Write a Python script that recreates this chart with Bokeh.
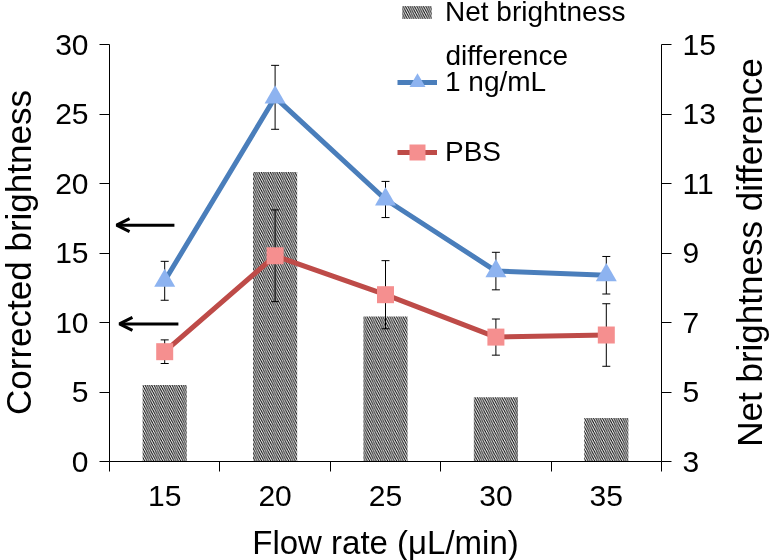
import math
from bokeh.plotting import figure
from bokeh.layouts import row
from bokeh.models import (Range1d, LinearAxis, FixedTicker, ColumnDataSource, Whisker, TeeHead,
                          Arrow, OpenHead, Legend, LegendItem, Label)
from bokeh.embed import file_html
from bokeh.resources import INLINE

# ---- data ----
flow_rate = [15, 20, 25, 30, 35]
ng1_mean = [13.0, 26.2, 18.85, 13.7, 13.4]
ng1_err = [1.4, 2.3, 1.3, 1.35, 1.35]
pbs_mean = [7.9, 14.8, 12.0, 8.95, 9.1]
pbs_err = [0.85, 3.3, 2.45, 1.3, 2.25]
net_diff = [5.2, 11.33, 7.17, 4.85, 4.25]
left_ticks = [0, 5, 10, 15, 20, 25, 30]
right_ticks = [3, 5, 7, 9, 11, 13, 15]
cat_bounds = [12.5, 17.5, 22.5, 27.5, 32.5, 37.5]
arrow_levels = [17.0, 9.9]

FONT = "Liberation Sans"
BLUE = "#4A7EBB"
RED = "#BE4B48"
TRI = "#8DB3F0"
SQR = "#F58F8F"

W, H = 771, 560
WL, WR = 45, 43          # side strips holding the two vertical axis titles
AX_H, TOP_PAD = 417, 44  # axes span, free frame above it for the legend
stretch = (AX_H + TOP_PAD) / AX_H
l0, l1 = left_ticks[0], left_ticks[-1]
r0, r1 = right_ticks[0], right_ticks[-1]


def strip(width, text, x_base):
    s = figure(width=width, height=H, min_border=0, x_range=Range1d(0, 1), y_range=Range1d(0, 1),
               x_axis_type=None, y_axis_type=None, output_backend="svg", toolbar_location=None,
               tools="")
    s.outline_line_color = None
    s.xgrid.visible = False
    s.ygrid.visible = False
    s.add_layout(Label(x=x_base, y=206, x_units="screen", y_units="screen", angle=math.pi / 2,
                       text=text, text_font=FONT, text_font_size="35px", text_align="center",
                       text_baseline="alphabetic", text_color="black"))
    return s


pL = strip(WL, "Corrected brightness", 18)
pR = strip(WR, "Net brightness difference", 21)

p = figure(frame_width=552, frame_height=AX_H + TOP_PAD, width=W - WL - WR, height=H,
           min_border_left=109 - WL, min_border_top=0, min_border_bottom=H - AX_H - TOP_PAD,
           min_border_right=W - WR - WL - (109 - WL) - 552,
           x_range=Range1d(cat_bounds[0], cat_bounds[-1]),
           y_range=Range1d(l0, l0 + (l1 - l0) * stretch),
           output_backend="svg", toolbar_location=None, tools="")
p.extra_y_ranges = {"right": Range1d(r0, r0 + (r1 - r0) * stretch)}
p.outline_line_color = None
p.xgrid.visible = False
p.ygrid.visible = False

# axes styling
xa = p.xaxis[0]
xa.ticker = FixedTicker(ticks=flow_rate, minor_ticks=cat_bounds)
xa.major_tick_out = 0
xa.major_tick_in = 0
xa.minor_tick_out = 10
xa.minor_tick_in = 0
xa.major_label_standoff = 14
xa.axis_label = "Flow rate (\u03bcL/min)"
xa.axis_label_standoff = 15

ya = p.yaxis[0]
ya.ticker = FixedTicker(ticks=left_ticks, minor_ticks=[])
ya.bounds = (l0, l1)

yr = LinearAxis(y_range_name="right", ticker=FixedTicker(ticks=right_ticks, minor_ticks=[]),
                bounds=(r0, r1))
p.add_layout(yr, "right")

for ax in (ya, yr):
    ax.major_tick_out = 10
    ax.major_tick_in = 0
    ax.minor_tick_out = 0
    ax.minor_tick_in = 0
    ax.major_label_standoff = 11
for ax in (xa, ya, yr):
    ax.axis_line_width = 1
    ax.axis_line_color = "black"
    ax.major_tick_line_color = "black"
    ax.minor_tick_line_color = "black"
    ax.major_label_text_font = FONT
    ax.major_label_text_color = "black"
    ax.major_label_text_font_size = "30px"
    ax.axis_label_text_font = FONT
    ax.axis_label_text_font_style = "normal"
    ax.axis_label_text_color = "black"
xa.axis_label_text_font_size = "33px"

# bars
bars = p.vbar(x=flow_rate, top=net_diff, bottom=r0, width=2.0, y_range_name="right",
              fill_color="white", line_color=None,
              hatch_pattern="\\", hatch_scale=4.5, hatch_weight=1.0, hatch_color="black",
              level="underlay")

# lines
l_blue = p.line(flow_rate, ng1_mean, line_color=BLUE, line_width=5)
l_red = p.line(flow_rate, pbs_mean, line_color=RED, line_width=5)

# error bars
src = ColumnDataSource(dict(
    x=flow_rate + flow_rate,
    upper=[m + e for m, e in zip(ng1_mean, ng1_err)] + [m + e for m, e in zip(pbs_mean, pbs_err)],
    lower=[m - e for m, e in zip(ng1_mean, ng1_err)] + [m - e for m, e in zip(pbs_mean, pbs_err)],
))
wh = Whisker(base="x", upper="upper", lower="lower", source=src, line_color="black", line_width=1,
             upper_head=TeeHead(size=8, line_width=1, line_color="black"),
             lower_head=TeeHead(size=8, line_width=1, line_color="black"), level="glyph")
p.add_layout(wh)

# markers
m_blue = p.scatter(flow_rate, ng1_mean, marker="triangle", size=21, fill_color=TRI, line_color=None,
                   level="overlay")
m_red = p.scatter(flow_rate, pbs_mean, marker="square", size=17, fill_color=SQR, line_color=None,
                  level="overlay")

# arrows
arrow_x_start = [15.44, 15.62]
arrow_x_end = [12.82, 12.95]
for xs, xe, yv in zip(arrow_x_start, arrow_x_end, arrow_levels):
    p.add_layout(Arrow(x_start=xs, y_start=yv, x_end=xe, y_end=yv, line_width=3, line_color="black",
                       end=OpenHead(size=13, line_width=3, line_color="black")))


# legends
def style_legend(lg):
    lg.label_text_font = FONT
    lg.label_text_font_size = "28px"
    lg.label_text_color = "black"
    lg.padding = 0
    lg.margin = 0
    lg.border_line_color = None
    lg.background_fill_alpha = 0
    lg.orientation = "vertical"


leg_bar = Legend(items=[LegendItem(label="Net brightness", renderers=[bars])], location=(289, 433))
style_legend(leg_bar)
leg_bar.glyph_width = 37
leg_bar.glyph_height = 16
leg_bar.label_height = 20
leg_bar.label_standoff = 10
p.add_layout(leg_bar)

leg_lines = Legend(items=[
    LegendItem(label="1 ng/mL", renderers=[l_blue, m_blue]),
    LegendItem(label="PBS", renderers=[l_red, m_red]),
], location=(288, 284))
style_legend(leg_lines)
leg_lines.glyph_width = 40
leg_lines.glyph_height = 50
leg_lines.label_height = 20
leg_lines.spacing = 20
leg_lines.label_standoff = 8
p.add_layout(leg_lines)

p.add_layout(Label(x=336, y=406, x_units="screen", y_units="screen", text="difference",
                   text_font=FONT, text_font_size="28px", text_baseline="alphabetic",
                   text_color="black"))

layout = row(pL, p, pR, spacing=0)
layout.styles = {"position": "fixed", "left": "0px", "top": "0px"}

open("out.html", "w").write(file_html(layout, INLINE))
